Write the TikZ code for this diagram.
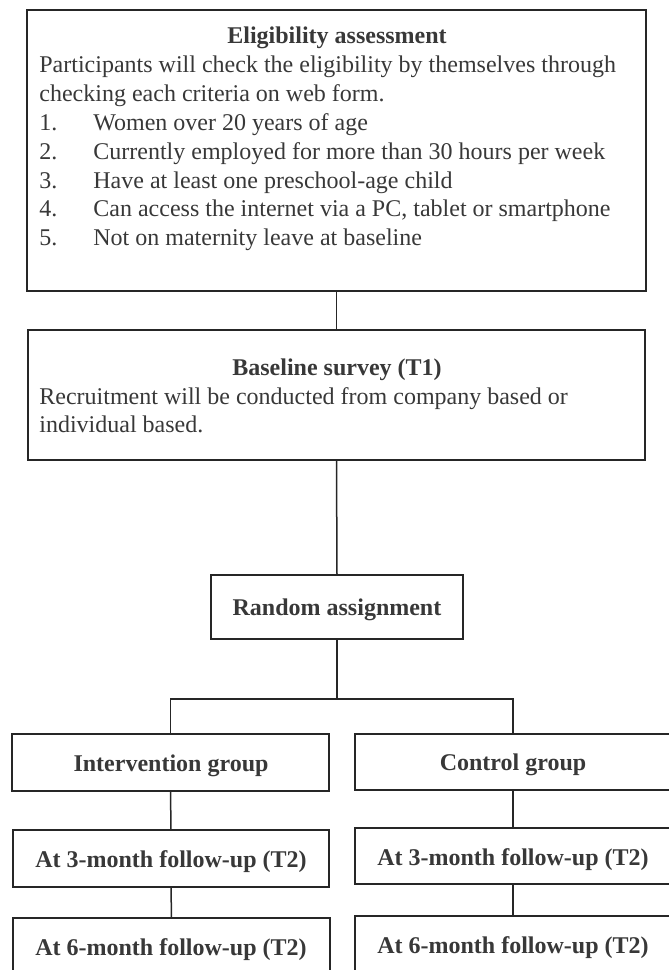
\documentclass[tikz,border=0pt]{standalone}
\usepackage{fontspec}
\setmainfont{Liberation Serif}
\usetikzlibrary{fit}

\begin{document}
\begin{tikzpicture}[x=0.5pt,y=-0.5pt,
  box/.style={draw=black!85, line width=0.75pt, inner sep=0pt},
  head/.style={font=\fontsize{12}{14}\selectfont\bfseries, text=black!78, inner sep=0pt, anchor=base},
  body/.style={font=\fontsize{12}{14}\selectfont, text=black!78, inner sep=0pt, anchor=base west}]
\useasboundingbox (0,0) rectangle (669,970);
\clip (0,0) rectangle (669,970);

% boxes
\node[box, fit={(27,10) (646,291)}] (nElig) {};
\node[box, fit={(28,330) (645,460)}] (nBase) {};
\node[box, fit={(211,575) (463,639)}] (nRand) {};
\node[box, fit={(12,734) (329,791)}] (nInt) {};
\node[box, fit={(355,734) (671,790)}] (nCtrl) {};
\node[box, fit={(13,830) (329,887)}] (nIntA) {};
\node[box, fit={(355,828) (671,884)}] (nCtrlA) {};
\node[box, fit={(13,918) (330,995)}] (nIntB) {};
\node[box, fit={(355,916) (671,995)}] (nCtrlB) {};

% eligibility text
\node[head] (tElig) at (337,43) {Eligibility assessment};
\node[body] (tEligA) at (39,72.7) {Participants will check the eligibility by themselves through};
\node[body] (tEligB) at (39,101.5) {checking each criteria on web form.};
\foreach \n/\y/\t in {1/130.5/Women over 20 years of age,
    2/159/Currently employed for more than 30 hours per week,
    3/188/Have at least one preschool-age child,
    4/216.5/Can access the internet via a PC{,} tablet or smartphone,
    5/245/Not on maternity leave at baseline}
{
    \node[body] (tNum\n) at (39,\y) {\n.};
    \node[body] (tItem\n) at (93,\y) {\t};
};

% baseline text
\node[head] (tBase) at (337,375) {Baseline survey (T1)};
\node[body] (tBaseA) at (39,404) {Recruitment will be conducted from company based or};
\node[body] (tBaseB) at (39,432.7) {individual based.};

\node[head] (tRand) at (337,615) {Random assignment};
\node[head] (tInt) at (171,771.7) {Intervention group};
\node[head] (tCtrl) at (513,770.7) {Control group};
\node[head] (tIntA) at (171,867.7) {At 3-month follow-up (T2)};
\node[head] (tCtrlA) at (513,865) {At 3-month follow-up (T2)};
\node[head] (tIntB) at (171,955) {At 6-month follow-up (T2)};
\node[head] (tCtrlB) at (513,953) {At 6-month follow-up (T2)};

% connectors
\coordinate (cSplit) at (337,699);
\draw [line width=0.75pt, draw=black!85] (nRand.south) -- (cSplit);
\draw [line width=0.75pt, draw=black!85] (nInt.north) |- (cSplit) -| (nCtrl.north);
\foreach \v/\u in {Elig/Base, Base/Rand, Int/IntA, IntA/IntB, Ctrl/CtrlA, CtrlA/CtrlB}
{
    \draw [line width=0.75pt, draw=black!85] (n\v.south) -- (n\u.north);
};

\end{tikzpicture}
\end{document}
